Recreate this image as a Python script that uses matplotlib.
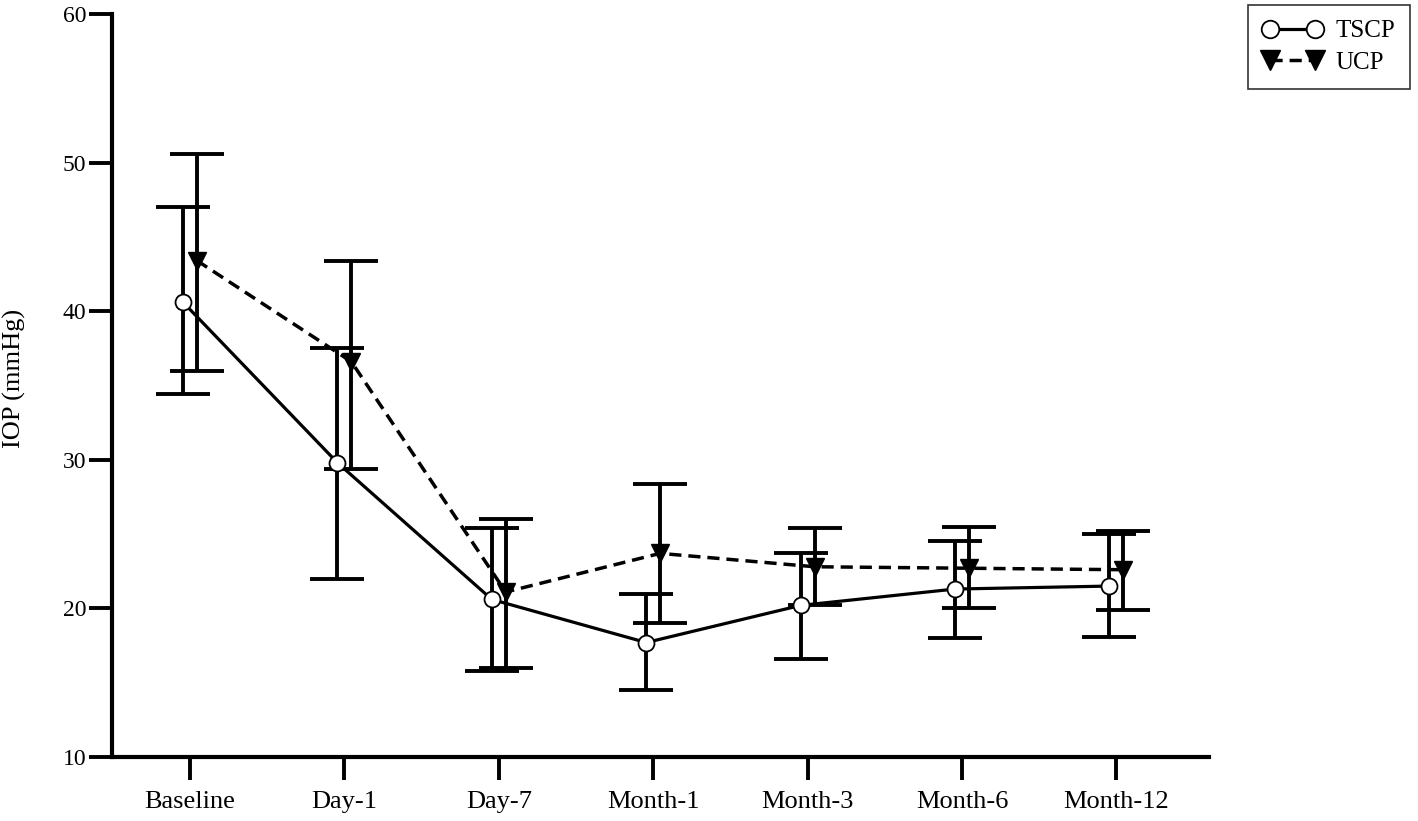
import matplotlib.pyplot as plt
import numpy as np

plt.rcParams['font.family'] = ['Liberation Serif', 'DejaVu Serif']

# data
timepoints = ['Baseline', 'Day-1', 'Day-7', 'Month-1', 'Month-3', 'Month-6', 'Month-12']

tscp_mean = [40.6, 29.8, 20.6, 17.7, 20.2, 21.3, 21.5]
tscp_upper = [47.0, 37.5, 25.4, 21.0, 23.7, 24.5, 25.0]
tscp_lower = [34.4, 22.0, 15.8, 14.5, 16.6, 18.0, 18.1]

ucp_mean = [43.4, 36.6, 21.1, 23.7, 22.8, 22.7, 22.6]
ucp_upper = [50.6, 43.4, 26.0, 28.4, 25.4, 25.5, 25.2]
ucp_lower = [36.0, 29.4, 16.0, 19.0, 20.2, 20.0, 19.9]

x = np.arange(len(timepoints))
shift = 0.045

fig = plt.figure(figsize=(14.18, 8.21), dpi=100)
ax = fig.add_axes([0.079, 0.078, 0.7736, 0.905])

# error bars as mean -/+ distance to the caps
tscp_err = [np.array(tscp_mean) - np.array(tscp_lower),
            np.array(tscp_upper) - np.array(tscp_mean)]
ucp_err = [np.array(ucp_mean) - np.array(ucp_lower),
           np.array(ucp_upper) - np.array(ucp_mean)]

ax.errorbar(x + shift, ucp_mean, yerr=ucp_err, fmt='none', ecolor='black',
            elinewidth=2.8, capsize=19.5, capthick=2.8, zorder=2)
ax.errorbar(x - shift, tscp_mean, yerr=tscp_err, fmt='none', ecolor='black',
            elinewidth=2.8, capsize=19.5, capthick=2.8, zorder=2)

ax.plot(x + shift, ucp_mean, color='black', linestyle=(0, (3.5, 2)), linewidth=2.5,
        marker='v', markersize=13, markerfacecolor='black', markeredgecolor='black',
        label='UCP', zorder=3)
ax.plot(x - shift, tscp_mean, color='black', linestyle='-', linewidth=2.3,
        marker='o', markersize=11.5, markerfacecolor='white', markeredgecolor='black',
        markeredgewidth=1.3, label='TSCP', zorder=4)

ax.set_xlim(-0.505, 6.6)
ax.set_ylim(10, 60)
ax.set_xticks(x)
ax.set_xticklabels(timepoints)
ax.set_yticks([10, 20, 30, 40, 50, 60])

for side in ['top', 'right']:
    ax.spines[side].set_visible(False)
for side in ['left', 'bottom']:
    ax.spines[side].set_linewidth(3)

ax.tick_params(axis='both', direction='out', length=16.5, width=2.8, labelsize=17)
ax.tick_params(axis='x', pad=8, labelsize=19)
ax.tick_params(axis='y', pad=2)

ax.set_ylabel('IOP (mmHg)', fontsize=19, va='center')
ax.yaxis.set_label_coords(-0.089, 0.51)

handles, labels = ax.get_legend_handles_labels()
leg = fig.legend(handles[::-1], labels[::-1], loc='upper right',
                 bbox_to_anchor=(0.9944, 0.994), borderaxespad=0, numpoints=2,
                 handlelength=2.4, fontsize=18, frameon=True, fancybox=False,
                 edgecolor='black', borderpad=0.6, labelspacing=0.35,
                 handletextpad=0.5, markerscale=1.1)
leg.get_frame().set_linewidth(1.2)

fig.savefig('out.png', dpi=100)
